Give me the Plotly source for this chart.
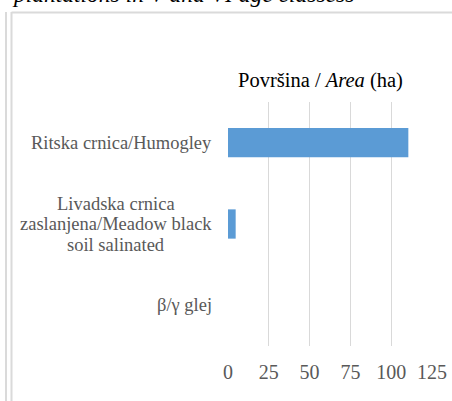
import plotly.graph_objects as go

categories = ["Ritska crnica/Humogley",
              "Livadska crnica<br>zaslanjena/Meadow black<br>soil salinated",
              "β/γ glej"]
values = [110.5, 4.7, 0]
x_ticks = [0, 25, 50, 75, 100, 125]

# label block centres (pixels) – styling only
label_center_px = [121, 116, 184.5]

W, H = 452, 401
L, R, T, B = 228, 20, 102, 55
pw = W - L - R
ph = H - T - B

def px(x):
    return (x - L) / pw

def py(y):
    return (H - B - y) / ph

serif = "Liberation Serif"
gray = "#595959"

fig = go.Figure(go.Bar(
    y=categories, x=values, orientation="h",
    marker=dict(color="#5b9bd5", line=dict(width=0)),
    width=0.36, hoverinfo="skip",
))

fig.update_layout(
    width=W, height=H,
    margin=dict(l=L, r=R, t=T, b=B, autoexpand=False),
    paper_bgcolor="white", plot_bgcolor="white",
    showlegend=False,
    font=dict(family=serif, color=gray),
    xaxis=dict(range=[0, 125], tickvals=x_ticks, showgrid=True,
               gridcolor="#d9d9d9", gridwidth=1.3, zeroline=False,
               showline=False, tickfont=dict(size=20, color=gray, family=serif),
               ticks="", ticklabelstandoff=12, automargin=False),
    yaxis=dict(categoryorder="array", categoryarray=categories,
               autorange="reversed", showticklabels=False, automargin=False,
               showgrid=False, zeroline=False, showline=False, ticks=""),
)

# category labels: lines centred, tight line spacing
LS = 20.5
for c, cx in zip(categories, label_center_px):
    parts = c.split("<br>")
    n = len(parts)
    for i, p in enumerate(parts):
        fig.add_annotation(x=px(cx), xref="paper", y=c, yref="y",
                           text=p, showarrow=False, xanchor="center",
                           yshift=-(i - (n - 1) / 2) * LS,
                           font=dict(size=18.5, color=gray, family=serif))

# chart title
fig.add_annotation(x=px(320), xref="paper", y=py(80), yref="paper",
                   text="Površina / <i>Area</i> (ha)", showarrow=False,
                   xanchor="center", yanchor="middle",
                   font=dict(size=20.5, color="#000000", family=serif))

# cut-off caption at the top
fig.add_annotation(x=px(10), xref="paper", y=py(-6), yref="paper",
                   text="<i>plantations in V and VI age classess</i>",
                   showarrow=False, xanchor="left", yanchor="middle",
                   font=dict(size=23.5, color="#000000", family=serif))

# frame lines
line = dict(color="#dadada", width=2)
fig.add_shape(type="line", xref="paper", yref="paper",
              x0=px(6), x1=px(6), y0=py(12), y1=py(401), line=line)
fig.add_shape(type="line", xref="paper", yref="paper",
              x0=px(11.5), x1=px(11.5), y0=py(12), y1=py(401), line=line)
fig.add_shape(type="line", xref="paper", yref="paper",
              x0=px(11.5), x1=px(452), y0=py(12.5), y1=py(12.5), line=line)

fig.write_html("out.html", config={"displayModeBar": False},
               post_script="document.body.style.margin='0';")
